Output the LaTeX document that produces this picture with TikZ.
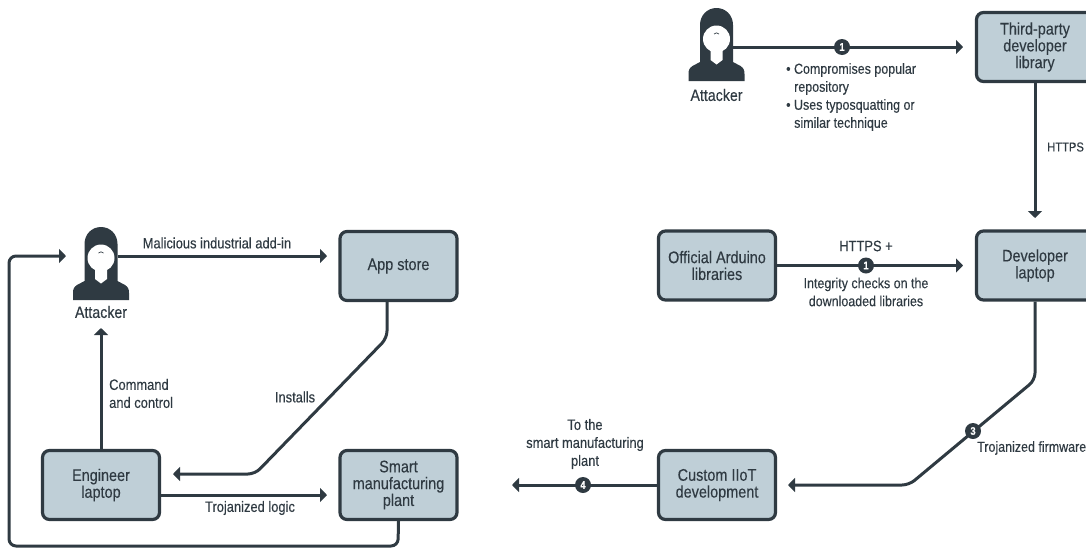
\documentclass[tikz,border=0pt]{standalone}
\usepackage{fontspec}
\setmainfont[FakeStretch=0.86,FakeBold=0.25]{Liberation Sans}
\usetikzlibrary{arrows.meta,calc}
\definecolor{ink}{HTML}{2F3A42}
\definecolor{boxfill}{HTML}{BFCFD7}
\newcommand{\attackericon}[2]{%
  \begin{scope}[shift={(#1,#2)}]
    \fill[ink] (-16.5,54) -- (-16.5,17) .. controls (-16.5,7) and (-9,0) .. (0,0) .. controls (9,0) and (16.5,7) .. (16.5,17) -- (16.5,54)
      -- (24,58) .. controls (27,60) and (28,62) .. (28,66) -- (28,73) -- (-28,73) -- (-28,66)
      .. controls (-28,62) and (-27,60) .. (-24,58) -- cycle;
    \fill[white] (-6,40) -- (6,40) -- (6,52) -- (0,56.5) -- (-6,52) -- cycle;
    \fill[white] (0,31) circle[radius=13.5];
    \draw[ink,line width=0.7pt] (-2.5,26) .. controls (-1,24.5) and (1,24.5) .. (2.5,26);
  \end{scope}}
\tikzset{
  x=1pt,y=-1pt,
  every node/.style={text=ink,font=\fontsize{15}{18}\selectfont},
  boxnode/.style={draw=ink,fill=boxfill,line width=3.2pt,rounded corners=7pt,minimum width=117pt,minimum height=69pt,align=center,inner sep=0pt,font=\fontsize{16.8}{16.8}\selectfont},
  lbl/.style={align=center,inner sep=0pt},
  smalllbl/.style={lbl,font=\fontsize{14.5}{18}\selectfont},
  tightlbl/.style={lbl,font=\fontsize{13}{18}\selectfont},
  attlbl/.style={lbl,font=\fontsize{16.5}{18}\selectfont},
  conn/.style={draw=ink,line width=3pt,rounded corners=7pt,-{Triangle[length=7pt,width=14pt]}},
  badge/.style={circle,fill=ink,text=white,inner sep=0pt,minimum size=16pt,font=\fontsize{11}{11}\bfseries\selectfont},
  anchorbox/.style={inner sep=0pt,minimum width=33pt,minimum height=73pt}
}
\begin{document}
\begin{tikzpicture}
\useasboundingbox (0,0) rectangle (1086,547);
% boxes
\node[boxnode] (third) at (1035,47) {Third-party\\developer\\library};
\node[boxnode] (dev) at (1035,265.5) {Developer\\laptop};
\node[boxnode] (ard) at (717,265.5) {Official Arduino\\libraries};
\node[boxnode] (iiot) at (717,485) {Custom IIoT\\development};
\node[boxnode] (store) at (398.5,266) {App store};
\node[boxnode] (eng) at (101,485) {Engineer\\laptop};
\node[boxnode] (plant) at (398.5,485) {Smart\\manufacturing\\plant};
% attackers
\attackericon{716.5}{8}
\attackericon{101}{227}
\node[anchorbox] (attR) at (716.5,44.5) {};
\node[anchorbox] (attL) at (101,263.5) {};
\node[attlbl] (attRlab) at (716.5,95) {Attacker};
\node[attlbl] (attLlab) at (101,312) {Attacker};
% free ends
\coordinate (tipA) at (963,47);
\coordinate (tipH) at (1035,218);
\coordinate (tipB) at (963,265.5);
\coordinate (tipC) at (788,485);
\coordinate (bendC1) at (1035,380);
\coordinate (bendC2) at (909,485);
\coordinate (tipD) at (512,485);
\coordinate (tipS) at (327,256);
\coordinate (tipCC) at (101,328);
\coordinate (tipI) at (173,474);
\coordinate (bendI1) at (387,338);
\coordinate (bendI2) at (255,474);
\coordinate (tipT) at (327,495);
\coordinate (tipL) at (66,256);
\coordinate (loop1) at (398,546);
\coordinate (loop2) at (9,546);
\coordinate (loop3) at (9,256);
% connectors right
\draw[conn] ([yshift=-2.5pt]attR.east) -- (tipA);
\draw[conn] (third.south) -- (tipH);
\draw[conn] (ard.east) -- (tipB);
\draw[conn] (dev.south) -- (bendC1) -- (bendC2) -- (tipC);
\draw[conn] (iiot.west) -- (tipD);
% connectors left
\draw[conn] ([yshift=7.5pt]attL.east) -- (tipS);
\draw[conn] (eng.north) -- (tipCC);
\draw[conn] (store.south -| bendI1) -- (bendI1) -- (bendI2) -- (tipI);
\draw[conn] ([yshift=-10pt]eng.east) -- (tipT);
\draw[conn] (plant.south) -- (loop1) -- (loop2) -- (loop3) -- (tipL);
% badges
\node[badge] (b1) at (842,47) {1};
\node[badge] (b2) at (866,265.5) {1};
\node[badge] (b3) at (973,431) {3};
\node[badge] (b4) at (583,485) {4};
% labels
\node[smalllbl,anchor=west,align=left] (bul) at (786,97) {• Compromises popular\\\hspace*{8pt}repository\\• Uses typosquatting or\\\hspace*{8pt}similar technique};
\node[tightlbl,anchor=west] (https) at (1047,147) {HTTPS};
\node[lbl] (hplus) at (866,246) {HTTPS +};
\node[smalllbl] (integ) at (866,292) {Integrity checks on the\\downloaded libraries};
\node[smalllbl,anchor=west] (troj) at (977,448) {Trojanized firmware};
\node[lbl] (tothe) at (585,444) {To the\\smart manufacturing\\plant};
\node[lbl] (mal) at (217,243) {Malicious industrial add-in};
\node[lbl,anchor=west,align=left] (cc) at (109,393.5) {Command\\and control};
\node[lbl] (inst) at (295,397) {Installs};
\node[lbl] (tl) at (250,508) {Trojanized logic};
\end{tikzpicture}
\end{document}
